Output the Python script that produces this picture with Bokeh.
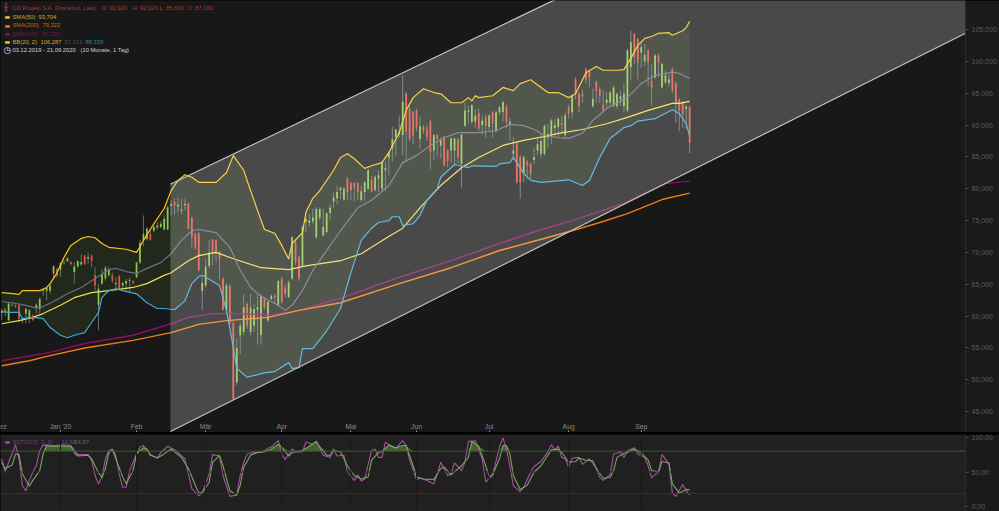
from bokeh.plotting import figure
from bokeh.layouts import column
from bokeh.models import Range1d, LinearAxis, FixedTicker, Label, PolyAnnotation, Span
from bokeh.embed import file_html
from bokeh.resources import INLINE

open_ = [60.5,61.0,59.3,61.7,61.5,61.8,59.7,60.4,59.6,60.0,
61.3,61.1,64.0,64.0,64.0,66.7,67.4,67.3,68.4,68.6,
68.5,66.9,67.8,68.1,69.5,69.0,69.5,66.4,61.8,65.1,
65.9,66.4,66.4,65.0,66.3,64.8,65.1,65.5,65.5,66.1,
68.4,71.9,72.1,72.9,73.4,73.9,74.0,73.6,73.6,77.3,
77.9,77.2,76.5,77.4,77.7,75.5,73.0,73.0,64.0,64.8,
67.9,72.0,71.9,70.0,65.9,61.0,64.8,59.0,49.6,57.0,
57.5,61.9,57.5,58.5,61.0,57.0,62.7,59.3,62.7,63.2,
61.7,65.9,64.5,63.0,65.9,71.6,69.3,67.9,74.8,74.6,
74.9,72.4,75.5,72.7,73.2,76.2,78.0,78.5,79.8,78.3,
81.6,80.9,80.9,80.9,78.2,79.5,80.0,81.4,79.8,81.6,
80.0,82.9,84.9,86.3,88.1,88.6,88.4,95.0,92.5,92.0,
92.4,87.8,89.7,89.4,90.6,86.0,88.4,86.8,88.1,86.0,
86.0,86.0,87.8,83.9,89.9,92.0,90.5,90.5,91.9,90.0,
91.2,89.7,92.0,89.1,92.0,92.0,92.8,90.0,85.5,87.1,
85.0,82.5,84.2,83.9,84.5,86.0,85.5,85.5,88.0,88.4,
89.5,89.7,90.3,88.4,92.8,92.0,97.2,94.9,94.9,98.8,
98.5,93.0,96.7,95.7,93.2,93.5,93.5,93.0,93.0,94.0,
93.0,92.3,99.1,104.3,103.5,101.4,100.0,101.7,97.0,97.5,
100.9,95.9,96.7,96.6,98.8,96.6,94.0,93.6,92.5,92.92]
close = [60.9,60.6,62.0,61.8,61.6,59.6,59.3,61.1,60.9,59.4,
61.8,62.7,64.2,64.4,64.8,67.8,66.4,68.3,68.5,69.1,
68.2,67.8,68.6,68.5,68.2,69.3,68.7,64.8,64.3,66.6,
67.6,67.3,65.6,65.2,64.3,65.2,65.5,65.7,65.2,68.4,
71.5,72.9,73.7,72.0,74.0,74.2,74.5,75.3,77.1,77.6,
77.4,77.5,76.7,77.6,73.7,72.4,70.8,67.2,65.2,67.8,
70.0,70.0,69.8,69.0,61.0,64.8,59.0,47.0,55.0,58.5,
61.4,58.5,61.3,61.1,61.4,63.2,61.4,62.2,63.2,62.9,
65.5,62.2,63.5,65.3,72.4,68.5,65.9,74.0,75.3,75.0,
75.5,76.8,76.8,74.0,76.1,77.0,78.6,79.5,80.2,80.0,
79.5,79.8,80.2,79.5,79.6,81.0,82.9,79.6,81.9,82.1,
84.2,83.2,85.7,87.8,89.3,89.0,93.6,88.9,87.8,88.4,
89.6,89.8,89.1,88.1,85.7,88.4,87.8,87.6,83.7,84.4,
87.9,87.9,85.0,88.5,92.3,92.3,93.1,91.5,89.4,90.7,
89.9,91.5,90.2,92.0,92.8,93.6,90.4,90.5,86.0,81.0,
81.0,84.9,83.7,82.3,85.0,87.0,87.5,89.9,88.6,90.7,
90.0,91.0,90.0,91.5,91.8,94.5,94.9,93.0,94.5,97.2,
97.5,94.1,95.4,94.6,92.3,94.0,95.1,95.9,94.9,94.5,
94.9,101.7,103.0,100.6,99.8,102.2,101.0,99.8,95.9,100.9,
99.8,99.6,97.8,97.2,95.4,93.3,92.3,91.7,92.9,87.16]
high = [61.1,61.3,62.0,62.1,61.9,61.9,59.8,61.3,61.1,60.3,
62.0,62.9,64.3,64.6,65.2,68.0,67.6,68.5,68.8,69.2,
68.6,68.5,68.8,69.7,69.6,70.0,69.7,67.7,65.0,67.4,
67.9,67.8,66.8,66.1,66.4,65.4,65.9,66.1,65.6,68.5,
72.0,75.8,74.0,73.5,74.3,74.7,74.9,75.9,77.3,78.2,
78.5,78.6,78.4,78.4,77.8,75.6,73.0,73.2,66.1,69.0,
71.9,72.1,72.0,70.3,66.1,65.2,65.0,59.2,56.5,59.0,
63.5,62.2,63.5,62.0,63.5,63.4,63.0,62.4,63.4,63.5,
65.7,66.1,65.0,65.6,72.6,72.0,69.5,74.2,75.5,76.0,
76.9,77.1,77.1,76.9,76.3,77.6,79.4,80.5,80.2,80.3,
81.8,81.1,81.1,81.0,80.5,81.2,83.1,82.0,82.1,82.9,
84.4,84.2,85.9,89.7,89.4,91.5,97.8,95.1,93.0,92.2,
92.6,91.3,90.0,90.0,90.9,88.6,88.6,88.0,88.3,86.2,
88.1,88.0,88.0,88.6,93.5,93.0,93.3,92.5,92.6,91.5,
91.7,91.7,92.2,92.2,93.0,93.8,93.2,91.2,88.1,87.3,
85.2,85.2,84.5,84.1,86.5,88.1,88.6,90.1,90.2,91.0,
91.0,91.2,91.5,92.0,93.2,94.8,97.5,95.2,95.5,99.0,
98.7,95.7,97.0,96.0,95.5,95.2,95.4,96.2,95.1,95.4,
96.5,102.0,104.8,104.5,103.7,103.2,102.7,102.0,99.5,101.2,
101.2,99.8,98.5,98.0,99.0,96.8,94.2,93.8,93.1,92.92]
low = [59.3,60.0,59.3,61.5,61.3,59.0,58.9,58.9,58.9,59.2,
60.4,60.4,63.2,62.5,63.5,66.1,66.1,66.1,68.1,68.5,
67.9,65.1,67.6,67.9,68.0,68.2,67.7,64.0,57.8,64.9,
65.5,66.2,65.2,64.3,64.2,64.4,64.0,63.7,65.0,66.0,
68.2,71.0,71.9,71.8,73.2,73.6,73.8,73.5,73.5,75.8,
75.9,76.3,76.0,76.6,73.6,70.6,70.4,67.0,60.9,64.5,
67.5,68.0,68.5,65.7,60.9,60.5,58.7,46.8,49.2,54.0,
57.0,58.0,57.0,57.5,55.6,55.5,61.0,59.1,62.5,62.0,
61.5,62.0,63.0,62.8,65.7,68.0,65.6,67.7,73.2,74.0,
74.4,72.1,75.0,72.5,73.0,75.0,77.0,77.5,78.4,78.1,
78.2,78.2,78.0,78.2,77.9,78.0,79.8,79.4,79.6,79.5,
79.8,79.7,82.0,84.2,85.2,88.0,85.2,84.2,87.5,87.0,
89.0,86.3,88.6,87.5,83.1,84.5,85.0,84.7,83.5,83.4,
84.0,83.5,84.0,80.2,89.7,90.2,90.2,89.5,89.0,88.5,
88.0,89.0,88.0,88.8,91.5,90.5,89.5,87.6,84.5,80.8,
78.4,81.0,81.5,81.5,83.9,85.2,84.9,85.2,86.5,87.0,
88.0,88.0,88.6,88.1,91.0,91.0,94.0,92.0,93.5,96.5,
96.0,92.7,93.5,93.5,92.0,92.5,93.0,92.8,92.5,93.0,
92.0,92.0,97.0,99.5,97.2,99.0,99.3,96.0,93.0,97.2,
97.5,95.7,96.4,96.0,95.0,90.3,89.0,89.5,89.4,85.6]

bb_up_x = [0,4,5,6,11,13,14,16,18,20,23,25,27,29,31,36,39,40,41,44,47,49,51,53,55,57,62,65,67,70,72,74,76,79,81,83,84,87,88,90,92,96,98,100,102,105,107,110,112,115,117,119,122,125,127,130,133,135,136,137,138,142,145,148,150,153,158,161,164,166,169,172,174,178,180,182,184,186,188,190,193,194,197,198,199]
bb_up = [63.7,63.5,63.4,64.0,64.0,64.5,65.1,66.8,69.2,71.1,72.2,72.5,72.3,71.4,70.8,70.5,70.0,70.9,71.9,74.5,76.9,79.7,81.3,82.2,81.8,81.0,81.0,82.5,85.2,82.9,79.7,76.6,73.6,73.0,71.1,69.0,71.4,73.1,76.3,78.5,79.7,82.9,84.9,85.5,84.7,83.2,83.6,84.1,85.7,88.8,92.3,94.3,95.7,95.1,94.9,93.5,93.5,94.3,93.8,94.6,94.3,94.6,95.9,95.4,96.5,97.1,95.1,95.1,94.3,94.9,98.2,99.2,98.6,98.6,98.7,100.5,102.5,103.6,103.9,104.4,104.5,104.1,104.8,105.3,106.29]
bb_lo_x = [0,2,5,6,9,12,14,17,19,21,24,26,28,29,31,33,35,39,42,45,47,50,53,55,57,58,63,65,67,68,71,76,79,83,84,86,87,90,94,98,101,104,107,109,112,113,115,116,119,121,123,126,127,131,135,136,143,144,147,148,149,151,153,156,164,168,170,173,176,180,182,184,189,194,196,198,199]
bb_lo = [60.7,60.6,60.6,59.6,59.8,59.6,58.2,57.0,56.6,57.0,57.4,59.0,60.6,62.9,64.0,64.3,64.0,63.5,62.1,61.2,61.2,61.0,62.4,65.1,66.2,66.4,64.8,60.9,55.1,51.8,50.4,51.1,51.3,52.7,51.8,51.9,54.9,54.9,57.7,61.2,66.8,71.9,73.8,74.7,75.0,75.6,75.6,74.2,74.5,75.8,78.2,80.0,81.8,83.8,83.3,83.6,83.5,83.9,84.1,84.9,84.1,82.4,81.3,81.0,81.4,80.5,81.3,84.9,87.9,89.6,89.9,90.6,91.0,92.4,91.8,90.2,88.34]
bb_mid_x = [0,3,7,10,12,15,19,23,27,31,33,36,39,42,46,49,52,55,57,62,66,69,72,75,80,82,84,87,90,98,103,107,112,116,120,124,128,132,138,143,147,151,154,157,161,164,168,171,175,181,185,189,194,196,199]
bb_mid = [62.3,62.1,61.7,61.3,61.5,62.3,63.5,64.5,65.9,67.3,67.5,67.0,66.7,67.5,68.4,69.8,71.9,73.4,73.6,73.1,70.8,67.2,64.5,63.1,61.7,60.9,61.7,64.0,67.2,73.4,77.0,78.2,80.5,84.1,85.2,86.8,88.0,88.8,88.8,89.1,90.1,89.9,89.3,88.4,88.0,87.9,88.7,90.7,92.6,94.3,96.5,97.8,98.3,98.1,97.31]
sma50_x = [0,5,9,12,17,21,26,31,38,42,47,49,54,57,62,67,75,83,88,98,104,111,116,121,127,133,138,145,151,157,161,168,175,181,187,194,196,199]
sma50 = [58.8,59.3,59.8,60.4,61.7,62.9,63.7,64.0,64.5,65.1,66.4,66.8,68.7,69.5,70.0,69.0,67.6,67.3,67.9,68.7,69.8,72.2,73.8,77.0,80.5,83.3,84.9,86.8,87.6,88.2,88.7,89.3,90.2,91.2,92.3,93.4,93.4,93.7]
sma200_x = [0,8,14,24,38,49,57,65,77,86,98,115,130,144,159,165,173,181,191,199]
sma200 = [52.2,53.0,53.8,55.0,56.2,57.4,58.7,59.3,59.8,60.9,62.1,65.1,67.6,70.3,72.5,73.4,74.7,76.1,78.3,79.32]
ema200_x = [0,14,24,38,49,54,61,67,77,84,98,115,130,144,155,165,180,192,199]
ema200 = [53.0,54.3,55.7,57.0,58.8,59.8,60.4,60.4,60.2,60.6,62.8,66.1,68.7,71.4,73.4,75.0,77.7,80.8,81.2]

k_x = [0,1,2,3,4,5,6,7,8,9,10,11,12,15,18,20,21,22,25,26,27,28,29,30,31,32,33,34,35,36,37,39,40,41,43,45,46,48,50,53,54,55,57,58,60,61,63,64,66,68,69,70,71,73,75,77,78,80,81,82,84,85,87,88,90,91,93,95,96,97,99,100,102,103,104,105,107,108,109,110,111,113,114,116,117,118,120,121,122,125,126,127,129,130,131,133,134,135,137,139,140,142,144,145,146,147,148,150,151,153,154,156,158,159,160,161,162,163,164,165,167,168,170,172,173,174,176,177,178,179,180,181,183,184,186,187,188,190,191,193,194,195,197,198,199]
k = [69,50,64,76,89,69,30,23,38,50,59,81,89,88,89,88,82,75,75,67,45,33,43,69,81,83,74,47,28,28,52,76,86,88,75,70,78,87,82,69,47,26,16,20,47,75,73,45,15,17,45,64,76,78,78,84,86,95,76,68,83,79,79,93,90,94,74,71,83,73,74,50,38,46,37,40,81,83,71,71,93,86,84,95,88,67,39,41,40,33,47,64,45,47,63,52,64,94,95,69,36,45,86,99,83,59,30,22,28,50,58,65,79,89,82,87,71,69,57,70,71,61,69,55,42,38,46,76,77,79,71,81,85,76,71,59,42,50,75,62,20,15,32,23,16.68]
d_x = [0,1,3,4,5,6,8,9,11,12,13,14,20,21,22,25,26,28,29,30,31,32,33,35,36,38,39,41,42,43,45,47,49,50,52,54,56,57,58,60,61,63,64,66,68,69,70,72,74,76,78,80,81,83,84,87,89,91,92,94,95,96,98,100,102,104,106,107,109,110,112,114,116,117,119,120,122,125,127,128,130,133,135,136,138,140,141,142,144,145,146,147,148,150,152,154,156,158,159,161,162,164,166,167,169,171,172,174,176,177,178,180,181,183,185,187,188,190,191,193,194,196,198,199]
d = [64,55,60,76,75,47,30,38,52,76,88,87,87,78,73,74,69,49,42,55,78,82,69,43,33,52,76,85,83,74,70,76,83,79,71,55,31,20,20,35,64,74,59,23,17,31,57,74,78,79,83,90,86,73,78,81,87,94,86,74,74,81,79,59,45,40,43,67,78,79,89,85,88,88,59,43,40,39,55,57,46,59,71,94,87,59,44,46,69,88,88,76,45,25,31,50,59,74,82,83,78,64,65,70,67,66,55,41,42,52,71,77,78,83,77,67,52,50,65,63,33,20,25,24.57]

month_labels = ["Jan '20", "Feb", "Mär", "Apr", "Mai", "Jun", "Jul", "Aug", "Sep"]
month_ticks = [17, 39, 59, 81, 101, 120, 141, 164, 185]
price_ticks = [45, 50, 55, 60, 65, 70, 75, 80, 85, 90, 95, 100, 105]
stoch_ticks = [0, 50, 100]
channel_x = [48.8, 278.8, 278.8, 48.8]
channel_y = [41.9, 104.4, 140.6, 80.7]

BG = "#181818"
WIDTH = 999
XR = (-0.35, 278.8)
LF = "5.8px"
TF = "7px"

up = [i for i in range(len(close)) if close[i] >= open_[i]]
dn = [i for i in range(len(close)) if close[i] < open_[i]]

p = figure(width=WIDTH, height=432, x_range=Range1d(*XR), y_range=Range1d(41.73, 109.55),
           output_backend="svg", toolbar_location=None, background_fill_color=BG,
           border_fill_color="#1a1a1a", min_border=0, min_border_right=33, outline_line_color=None,
           x_axis_location=None, y_axis_location=None)
p.grid.visible = False

p.patch(bb_up_x + bb_lo_x[::-1], bb_up + bb_lo[::-1], fill_color="#7cc240", fill_alpha=0.1, line_color=None)
p.segment(list(range(len(close))), low, list(range(len(close))), high, color="#6a6a6a", line_width=1)
p.vbar([i for i in up], 0.5, [open_[i] for i in up], [close[i] for i in up], color="#8cc84a", line_color=None)
p.vbar([i for i in dn], 0.5, [close[i] for i in dn], [open_[i] for i in dn], color="#ea4f3d", line_color=None)
p.line(ema200_x, ema200, line_color="#8a1060", line_width=1.4, line_join="round")
p.line(sma200_x, sma200, line_color="#f07c14", line_width=1.4, line_join="round")
p.line(sma50_x, sma50, line_color="#f0dc50", line_width=1.2, line_join="round")
p.line(bb_mid_x, bb_mid, line_color="#6e6c86", line_width=1.2, line_join="round")
p.line(bb_up_x, bb_up, line_color="#f5c518", line_width=1.2, line_join="round")
p.line(bb_lo_x, bb_lo, line_color="#3ea8d0", line_width=1.2, line_join="round")
p.patch(channel_x, channel_y, fill_color="#ffffff", fill_alpha=0.216, line_color=None)
p.line(channel_x[:2], channel_y[:2], line_color="#c4c4c4", line_width=1.2)
p.line([channel_x[3], channel_x[2]], [channel_y[3], channel_y[2]], line_color="#c4c4c4", line_width=1.2)

ry = LinearAxis(ticker=FixedTicker(ticks=price_ticks),
                major_label_overrides={t: f"{t},000" for t in price_ticks},
                major_label_text_color="#5c5c5c", major_label_text_font="Liberation Sans",
                major_label_text_font_size=TF, major_tick_line_color="#4a4a4a",
                major_tick_in=0, major_tick_out=3, minor_tick_line_color=None,
                axis_line_color="#2c2c2c", major_label_standoff=3)
p.add_layout(ry, "right")
bx = LinearAxis(ticker=FixedTicker(ticks=month_ticks),
                major_label_overrides=dict(zip(month_ticks, month_labels)),
                major_label_text_color="#8a8a8a", major_label_text_font="Liberation Sans",
                major_label_text_font_size="6.8px", major_tick_line_color="#999999",
                major_tick_in=2, major_tick_out=0, minor_tick_line_color=None,
                axis_line_color=None, major_label_standoff=-10)
p.add_layout(bx, "below")

def lab(fig, x, y, txt, col, font="Liberation Sans", size=LF):
    fig.add_layout(Label(x=x, y=y, x_units="screen", y_units="screen", text=txt, text_color=col,
                         text_font=font, text_font_size=size, text_baseline="middle"))

H = 432
lab(p, -6, H-426, "Dez", "#8a8a8a", size="6.8px")
lab(p, 3, H-7, "╫", "#b83232", "DejaVu Sans", "8px")
lab(p, 12, H-7, "CD Projekt S.A. (Frankfurt, Last)", "#b03434")
lab(p, 101, H-7, "O: 92,920", "#b03434")
lab(p, 132, H-7, "H: 92,920", "#b03434")
lab(p, 159, H-7, "L: 85,600", "#b03434")
lab(p, 187, H-7, "C: 87,160", "#b03434")
lab(p, 4, H-16, "▬", "#f0d040", "DejaVu Sans", "6px")
lab(p, 12, H-16, "SMA(50)", "#c8ae30")
lab(p, 38, H-16, "93,704", "#c8ae30")
lab(p, 4, H-24.5, "▬", "#f07c14", "DejaVu Sans", "6px")
lab(p, 12, H-24.5, "SMA(200)", "#c06a18")
lab(p, 42, H-24.5, "79,322", "#c06a18")
lab(p, 4, H-33, "▬", "#8a1060", "DejaVu Sans", "6px")
lab(p, 12, H-33, "EMA(200)", "#6e1650")
lab(p, 42, H-33, "81,203", "#6e1650")
lab(p, 4, H-41, "▬", "#f0d040", "DejaVu Sans", "6px")
lab(p, 12, H-41, "BB(20, 2)", "#c8ae30")
lab(p, 40, H-41, "106,287", "#c8ae30")
lab(p, 64, H-41, "97,313", "#4e4c62")
lab(p, 85, H-41, "88,339", "#2f86a6")
lab(p, 3, H-49.5, "◷", "#e0e0e0", "DejaVu Sans", "9px")
lab(p, 12, H-49.5, "03.12.2019 - 21.09.2020", "#d0d0d0")
lab(p, 80, H-49.5, "(10 Monate, 1 Tag)", "#d0d0d0")

# last-price tag
p.add_layout(PolyAnnotation(xs=[966, 971, 999, 999, 971], ys=[H-143, H-136, H-136, H-150, H-150],
                            xs_units="screen", ys_units="screen", fill_color="#e8403a", fill_alpha=1, line_color=None))
lab(p, 972, H-143, "87,160", "#5a0c0c", size=TF)

q = figure(width=WIDTH, height=77, x_range=Range1d(*XR), y_range=Range1d(-6.75, 103.9),
           output_backend="svg", toolbar_location=None, background_fill_color="#202020",
           border_fill_color="#1a1a1a", min_border=0, min_border_right=33, outline_line_color=None,
           x_axis_location=None, y_axis_location=None)
q.grid.visible = False
for t in month_ticks:
    q.add_layout(Span(location=t, dimension="height", line_color="#1a1a1a", line_width=1))
for t in stoch_ticks:
    q.add_layout(Span(location=t, dimension="width", line_color="#272727", line_width=1))
q.varea(d_x, [80]*len(d), [max(v, 80) for v in d], fill_color="#4d8030", fill_alpha=0.7)
q.add_layout(Span(location=80, dimension="width", line_color="#3a5a2c", line_width=1))
q.add_layout(Span(location=19, dimension="width", line_color="#622020", line_width=1))
q.line(k_x, k, line_color="#a94fa8", line_width=1.1, line_join="round")
q.line(d_x, d, line_color="#7aa85a", line_width=1.1, line_join="round")
rq = LinearAxis(ticker=FixedTicker(ticks=stoch_ticks),
                major_label_overrides={t: f"{t},00" for t in stoch_ticks},
                major_label_text_color="#5c5c5c", major_label_text_font="Liberation Sans",
                major_label_text_font_size=TF, major_tick_line_color="#4a4a4a",
                major_tick_in=0, major_tick_out=3, minor_tick_line_color=None,
                axis_line_color="#2c2c2c", major_label_standoff=3)
q.add_layout(rq, "right")
lab(q, 4, 77-7, "▬", "#a94fa8", "DejaVu Sans", "6px")
lab(q, 12, 77-7, "SSTOC(5, 3, 3)", "#7c3f7c")
lab(q, 61, 77-7, "16,68", "#7c3f7c")
lab(q, 74, 77-7, "24,57", "#5f7f48")

page = column(p, q, spacing=2, styles={"position": "absolute", "left": "0px", "top": "0px", "background-color": "#000000"})
open("out.html", "w").write(file_html(page, INLINE))
